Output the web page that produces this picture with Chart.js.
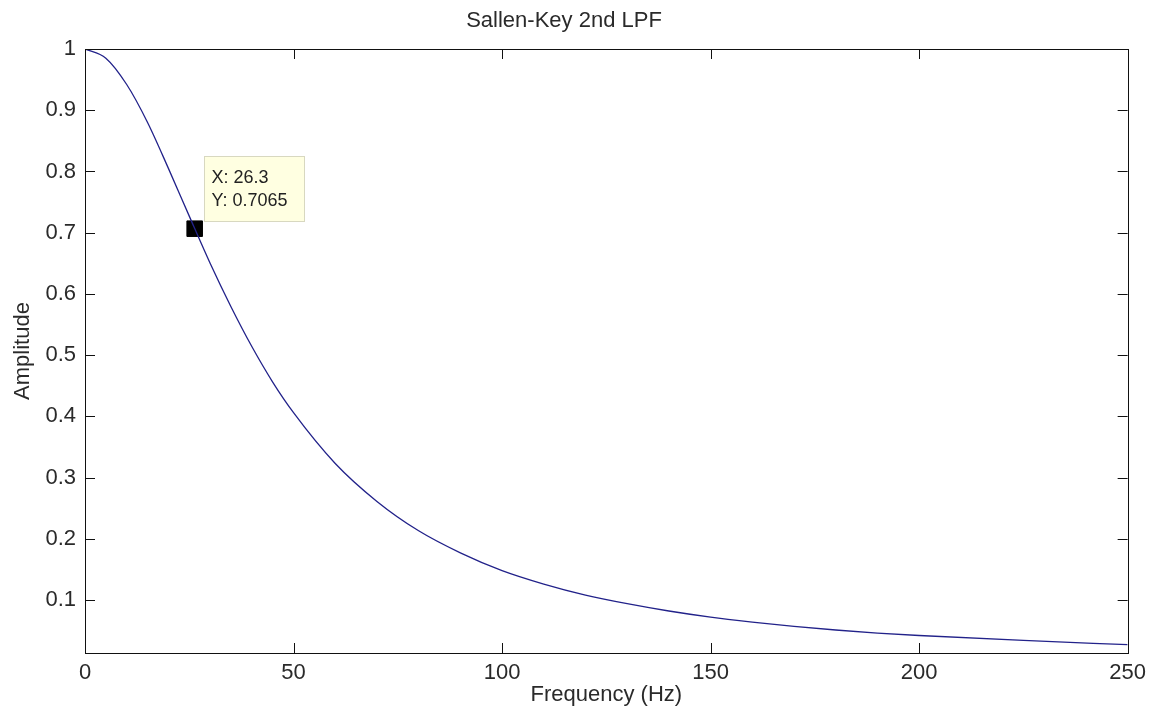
<!DOCTYPE html>
<html>
<head>
<meta charset="utf-8">
<script src="https://cdn.jsdelivr.net/npm/chart.js@4"></script>
<style>
  body { margin: 0; background: #fff; }
  #wrap { width: 1153px; height: 721px; }
</style>
</head>
<body>
<div id="wrap"><canvas id="lpfChart" width="1153" height="721"></canvas></div>
<script>
const freq = [0, 5, 10, 15, 20, 25, 30, 35, 40, 45, 50, 60, 70, 80, 90, 100, 110, 120, 130, 140, 150, 160, 170, 180, 190, 200, 225, 250];
const amp = [1, 0.985, 0.942, 0.88, 0.805, 0.727, 0.65, 0.579, 0.514, 0.456, 0.406, 0.323, 0.261, 0.213, 0.177, 0.148, 0.126, 0.108, 0.094, 0.082, 0.072, 0.064, 0.057, 0.051, 0.046, 0.042, 0.034, 0.027];
const xTicks = [0, 50, 100, 150, 200, 250];
const yTicks = [0.1, 0.2, 0.3, 0.4, 0.5, 0.6, 0.7, 0.8, 0.9, 1];
const tipX = 26.3;
const tipY = 0.7065;

const FONT = "'Liberation Sans', Arial, sans-serif";

// matlab style box with inward ticks
const boxPlugin = {
  id: "box",
  afterDraw(chart) {
    const { ctx, chartArea: a, scales } = chart;
    ctx.save();
    ctx.strokeStyle = "#111";
    ctx.lineWidth = 1;
    ctx.strokeRect(Math.round(a.left) + 0.5, Math.round(a.top) + 0.5, Math.round(a.right - a.left), Math.round(a.bottom - a.top));
    ctx.beginPath();
    xTicks.forEach((v) => {
      const x = Math.round(scales.x.getPixelForValue(v)) + 0.5;
      ctx.moveTo(x, a.bottom); ctx.lineTo(x, a.bottom - 10);
      ctx.moveTo(x, a.top); ctx.lineTo(x, a.top + 10);
    });
    yTicks.forEach((v) => {
      const y = Math.round(scales.y.getPixelForValue(v)) + 0.5;
      ctx.moveTo(a.left, y); ctx.lineTo(a.left + 10, y);
      ctx.moveTo(a.right, y); ctx.lineTo(a.right - 10, y);
    });
    ctx.stroke();
    ctx.restore();
  },
};

// data tip box next to the marker
const tipPlugin = {
  id: "tip",
  afterDraw(chart) {
    const { ctx, scales } = chart;
    const px = scales.x.getPixelForValue(tipX);
    const py = scales.y.getPixelForValue(tipY);
    const bx = Math.round(px + 9) + 0.5;
    const by = Math.round(py - 73) + 0.5;
    ctx.save();
    ctx.fillStyle = "#ffffe1";
    ctx.strokeStyle = "#d8d8c0";
    ctx.fillRect(bx, by, 100, 65);
    ctx.strokeRect(bx, by, 100, 65);
    ctx.fillStyle = "#222";
    ctx.font = "18px " + FONT;
    ctx.textBaseline = "alphabetic";
    ctx.fillText("X: " + tipX, bx + 7, by + 26);
    ctx.fillText("Y: " + tipY, bx + 7, by + 49);
    ctx.restore();
  },
};

new Chart(document.getElementById("lpfChart"), {
  type: "line",
  data: {
    datasets: [
      {
        data: freq.map((f, i) => ({ x: f, y: amp[i] })),
        borderColor: "#22228a",
        borderWidth: 1.3,
        pointRadius: 0,
        cubicInterpolationMode: "monotone",
      },
      {
        data: [{ x: tipX, y: tipY }],
        showLine: false,
        pointStyle: "rect",
        pointRadius: 11,
        backgroundColor: "#000",
        borderColor: "#000",
        borderWidth: 1,
      },
    ],
  },
  options: {
    responsive: false,
    animation: false,
    layout: { padding: { right: 25, left: 0, top: 0, bottom: 0 } },
    plugins: {
      legend: { display: false },
      tooltip: { enabled: false },
      title: {
        display: true,
        text: "Sallen-Key 2nd LPF",
        color: "#2a2a2a",
        font: { family: FONT, size: 22, weight: "normal" },
        padding: { top: 8, bottom: 14.6 },
      },
    },
    scales: {
      x: {
        type: "linear",
        min: 0,
        max: 250,
        grid: { display: false, drawTicks: false },
        border: { display: false },
        afterBuildTicks: (s) => { s.ticks = xTicks.map((v) => ({ value: v })); },
        afterFit: (s) => { s.height = 68; },
        ticks: {
          color: "#2a2a2a",
          padding: 7,
          maxRotation: 0,
          font: { family: FONT, size: 22 },
        },
        title: {
          display: true,
          text: "Frequency (Hz)",
          color: "#2a2a2a",
          font: { family: FONT, size: 22 },
          padding: { top: 0, bottom: 13 },
        },
      },
      y: {
        min: 0.0134,
        max: 1,
        grid: { display: false, drawTicks: false },
        border: { display: false },
        afterBuildTicks: (s) => { s.ticks = yTicks.map((v) => ({ value: v })); },
        afterFit: (s) => { s.width = 85; },
        ticks: {
          color: "#2a2a2a",
          padding: 9,
          font: { family: FONT, size: 22 },
          callback: (v) => String(+v.toFixed(1)),
        },
        title: {
          display: true,
          text: "Amplitude",
          color: "#2a2a2a",
          font: { family: FONT, size: 22 },
          padding: { top: 10, bottom: 10 },
        },
      },
    },
  },
  plugins: [boxPlugin, tipPlugin],
});
</script>
</body>
</html>
